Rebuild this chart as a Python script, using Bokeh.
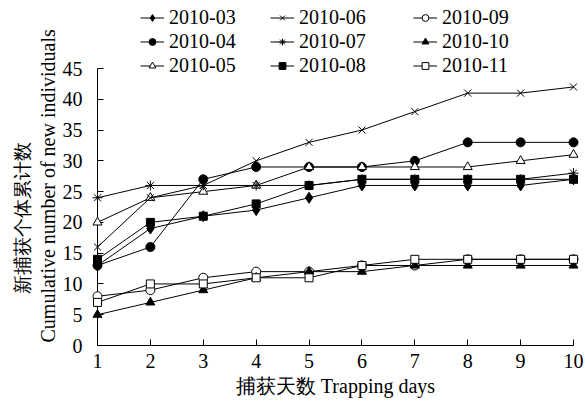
from bokeh.plotting import figure
from bokeh.models import Range1d, Legend, LegendItem, FixedTicker, Title
from bokeh.embed import file_html
from bokeh.resources import INLINE

days = [1, 2, 3, 4, 5, 6, 7, 8, 9, 10]
s03 = [13, 19, 21, 22, 24, 26, 26, 26, 26, 27]
s04 = [13, 16, 27, 29, 29, 29, 30, 33, 33, 33]
s05 = [20, 24, 25, 26, 29, 29, 29, 29, 30, 31]
s06 = [16, 24, 26, 30, 33, 35, 38, 41, 41, 42]
s07 = [24, 26, 26, 26, 26, 27, 27, 27, 27, 28]
s08 = [14, 20, 21, 23, 26, 27, 27, 27, 27, 27]
s09 = [8, 9, 11, 12, 12, 13, 13, 14, 14, 14]
s10 = [5, 7, 9, 11, 12, 12, 13, 13, 13, 13]
s11 = [7, 10, 10, 11, 11, 13, 14, 14, 14, 14]
names = ["2010-03", "2010-04", "2010-05", "2010-06", "2010-07", "2010-08",
         "2010-09", "2010-10", "2010-11"]
y_ticks = [0, 5, 10, 15, 20, 25, 30, 35, 40, 45]
y_label_zh = "新捕获个体累计数"
y_label_en = "Cumulative number of new individuals"
x_label = "捕获天数 Trapping days"

series = [s03, s04, s05, s06, s07, s08, s09, s10, s11]
# marker, size, fill
styles = [("diamond", 11, "black"), ("circle", 9, "black"), ("triangle", 9, "white"),
          ("x", 10, None), ("asterisk", 10, None), ("square", 8, "black"),
          ("circle", 9, "white"), ("triangle", 9, "black"), ("square", 8, "white")]

FONT = "Liberation Serif"
FS = "20px"

W, H = 585, 402
LEFT, RIGHT, BOTTOM = 97, 12, 57
AXIS_TOP_PX = 68  # where the value 45 sits
frame_h = H - BOTTOM
y_top = 45 * frame_h / (frame_h - AXIS_TOP_PX)

p = figure(width=W, height=H, output_backend="svg", toolbar_location=None,
           x_range=Range1d(1, 10), y_range=Range1d(0, y_top),
           min_border_left=LEFT, min_border_right=RIGHT, min_border_top=0,
           min_border_bottom=BOTTOM)
p.outline_line_color = None
p.xgrid.visible = False
p.ygrid.visible = False
p.background_fill_color = "white"

items = []
for s, name, (mk, sz, fill) in zip(series, names, styles):
    lr = p.line(days, s, line_color="black", line_width=1, level="overlay")
    kw = dict(marker=mk, size=sz, line_color="black", line_width=1, level="overlay")
    if fill is None:
        kw["fill_alpha"] = 0
    else:
        kw["fill_color"] = fill
    sr = p.scatter(days, s, **kw)
    items.append(LegendItem(label=name, renderers=[lr, sr]))

for ax in (p.xaxis[0], p.yaxis[0]):
    ax.major_label_text_font = FONT
    ax.major_label_text_font_size = FS
    ax.major_label_text_color = "black"
    ax.axis_label_text_font = FONT
    ax.axis_label_text_font_size = FS
    ax.axis_label_text_font_style = "normal"
    ax.axis_label_text_color = "black"
    ax.axis_line_color = "black"
    ax.major_tick_line_color = "black"
    ax.major_tick_in = 6
    ax.major_tick_out = 0
    ax.minor_tick_line_color = None

p.yaxis.bounds = (0, 45)
p.xaxis.ticker = FixedTicker(ticks=days)
p.yaxis.ticker = FixedTicker(ticks=y_ticks)
p.xaxis.major_label_standoff = 8
p.yaxis.major_label_standoff = 15
p.xaxis.axis_label = x_label
p.xaxis.axis_label_standoff = 4

# y-axis label: two rotated lines, each anchored at its own start
t_en = Title(text=y_label_en, align="left", offset=3, standoff=2,
             text_font=FONT, text_font_size="20px", text_font_style="normal",
             text_color="black")
t_zh = Title(text=y_label_zh, align="left", offset=52, standoff=2,
             text_font=FONT, text_font_size="19px", text_font_style="normal",
             text_color="black")
p.add_layout(t_en, "left")
p.add_layout(t_zh, "left")

col_x = [43, 173, 316]
leg_bottom = frame_h - 77
for c in range(3):
    lg = Legend(items=items[c * 3:(c + 1) * 3], location=(col_x[c], leg_bottom),
                orientation="vertical", border_line_color=None, background_fill_alpha=0,
                padding=0, margin=0, spacing=0, label_height=24, glyph_height=17,
                glyph_width=24, label_standoff=5,
                label_text_font=FONT, label_text_font_size=FS, label_text_color="black")
    p.add_layout(lg, "center")

open("out.html", "w").write(file_html(p, INLINE))
